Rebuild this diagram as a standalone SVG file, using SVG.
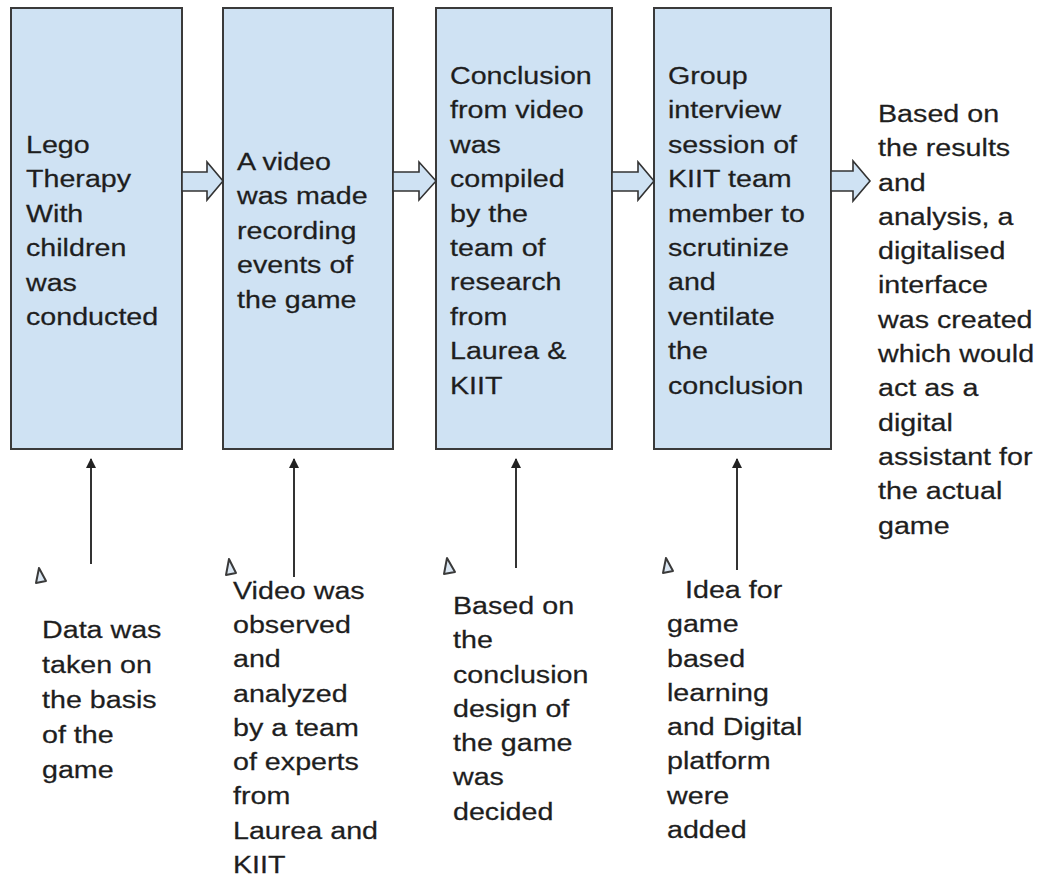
<svg xmlns="http://www.w3.org/2000/svg" width="1040" height="879" viewBox="0 0 1040 879">
<defs>
<style>
.box{fill:#cfe2f3;stroke:#3a3a3a;stroke-width:2}
.blk{fill:#cfe2f3;stroke:#333;stroke-width:1.6;stroke-linejoin:miter}
.t{font-family:"Liberation Sans",Arial,sans-serif;font-size:24.5px;fill:#1e1e1e;stroke:#1e1e1e;stroke-width:0.25}
.ln{stroke:#333;stroke-width:2;fill:none}
.tri{fill:#dbe7f3;stroke:#3a3a3a;stroke-width:2;stroke-linejoin:round}
</style>
<marker id="ah" viewBox="0 0 10 10" refX="9" refY="5" markerWidth="5" markerHeight="5" orient="auto" markerUnits="strokeWidth">
<path d="M0,0 L10,5 L0,10 z" fill="#222"/>
</marker>
</defs>
<rect width="1040" height="879" fill="#fff"/>

<g id="node1">
<rect class="box" x="11" y="8" width="171" height="441"/>
<g transform="matrix(1.17,0,0,1,-4.42,0)">
<text class="t" x="26" y="153">Lego</text>
<text class="t" x="26" y="187.5">Therapy</text>
<text class="t" x="26" y="222">With</text>
<text class="t" x="26" y="256.5">children</text>
<text class="t" x="26" y="291">was</text>
<text class="t" x="26" y="325.5">conducted</text>
</g>
</g>

<g id="node2">
<rect class="box" x="223" y="8" width="170" height="441"/>
<g transform="matrix(1.17,0,0,1,-40.29,0)">
<text class="t" x="237" y="170">A video</text>
<text class="t" x="237" y="204.5">was made</text>
<text class="t" x="237" y="239">recording</text>
<text class="t" x="237" y="273.5">events of</text>
<text class="t" x="237" y="308">the game</text>
</g>
</g>

<g id="node3">
<rect class="box" x="436" y="8" width="176" height="441"/>
<g transform="matrix(1.17,0,0,1,-76.5,0)">
<text class="t" x="450" y="84">Conclusion</text>
<text class="t" x="450" y="118.4">from video</text>
<text class="t" x="450" y="152.8">was</text>
<text class="t" x="450" y="187.2">compiled</text>
<text class="t" x="450" y="221.6">by the</text>
<text class="t" x="450" y="256">team of</text>
<text class="t" x="450" y="290.4">research</text>
<text class="t" x="450" y="324.8">from</text>
<text class="t" x="450" y="359.2">Laurea &amp;</text>
<text class="t" x="450" y="393.6">KIIT</text>
</g>
</g>

<g id="node4">
<rect class="box" x="654" y="8" width="177" height="441"/>
<g transform="matrix(1.17,0,0,1,-113.56,0)">
<text class="t" x="668" y="84">Group</text>
<text class="t" x="668" y="118.4">interview</text>
<text class="t" x="668" y="152.8">session of</text>
<text class="t" x="668" y="187.2">KIIT team</text>
<text class="t" x="668" y="221.6">member to</text>
<text class="t" x="668" y="256">scrutinize</text>
<text class="t" x="668" y="290.4">and</text>
<text class="t" x="668" y="324.8">ventilate</text>
<text class="t" x="668" y="359.2">the</text>
<text class="t" x="668" y="393.6">conclusion</text>
</g>
</g>

<g id="node5">
<g transform="matrix(1.17,0,0,1,-149.26,0)">
<text class="t" x="878" y="122">Based on</text>
<text class="t" x="878" y="156.3">the results</text>
<text class="t" x="878" y="190.6">and</text>
<text class="t" x="878" y="224.9">analysis, a</text>
<text class="t" x="878" y="259.2">digitalised</text>
<text class="t" x="878" y="293.5">interface</text>
<text class="t" x="878" y="327.8">was created</text>
<text class="t" x="878" y="362.1">which would</text>
<text class="t" x="878" y="396.4">act as a</text>
<text class="t" x="878" y="430.7">digital</text>
<text class="t" x="878" y="465">assistant for</text>
<text class="t" x="878" y="499.3">the actual</text>
<text class="t" x="878" y="533.6">game</text>
</g>
</g>

<g id="note1">
<polygon class="tri" points="39,568 36,583 46,581"/>
<g transform="matrix(1.17,0,0,1,-7.14,0)">
<text class="t" x="42" y="638">Data was</text>
<text class="t" x="42" y="673">taken on</text>
<text class="t" x="42" y="708">the basis</text>
<text class="t" x="42" y="743">of the</text>
<text class="t" x="42" y="778">game</text>
</g>
</g>

<g id="note2">
<polygon class="tri" points="229,559 226,575 236,573"/>
<g transform="matrix(1.17,0,0,1,-39.61,0)">
<text class="t" x="233" y="599">Video was</text>
<text class="t" x="233" y="633.25">observed</text>
<text class="t" x="233" y="667.5">and</text>
<text class="t" x="233" y="701.75">analyzed</text>
<text class="t" x="233" y="736">by a team</text>
<text class="t" x="233" y="770.25">of experts</text>
<text class="t" x="233" y="804.5">from</text>
<text class="t" x="233" y="838.75">Laurea and</text>
<text class="t" x="233" y="873">KIIT</text>
</g>
</g>

<g id="note3">
<polygon class="tri" points="447,558 444,574 455,572"/>
<g transform="matrix(1.17,0,0,1,-77.01,0)">
<text class="t" x="453" y="614">Based on</text>
<text class="t" x="453" y="648.3">the</text>
<text class="t" x="453" y="682.6">conclusion</text>
<text class="t" x="453" y="716.9">design of</text>
<text class="t" x="453" y="751.2">the game</text>
<text class="t" x="453" y="785.5">was</text>
<text class="t" x="453" y="819.8">decided</text>
</g>
</g>

<g id="note4">
<polygon class="tri" points="666,558 663,573 673,571"/>
<g transform="matrix(1.17,0,0,1,-113.39,0)">
<text class="t" x="682.4" y="598">Idea for</text>
<text class="t" x="667" y="632.3">game</text>
<text class="t" x="667" y="666.6">based</text>
<text class="t" x="667" y="700.9">learning</text>
<text class="t" x="667" y="735.2">and Digital</text>
<text class="t" x="667" y="769.5">platform</text>
<text class="t" x="667" y="803.8">were</text>
<text class="t" x="667" y="838.1">added</text>
</g>
</g>

<g id="connectors">
<polygon class="blk" points="182,172 207,172 207,162 223,181 207,200 207,191 182,191"/>
<polygon class="blk" points="393,172 419,172 419,162 436,181 419,200 419,191 393,191"/>
<polygon class="blk" points="612,172 638,172 638,162 654,181 638,200 638,191 612,191"/>
<polygon class="blk" points="831,171 853,171 853,161 870,181 853,201 853,191 831,191"/>
<line class="ln" x1="91" y1="564" x2="91" y2="459" marker-end="url(#ah)"/>
<line class="ln" x1="294" y1="577" x2="294" y2="459" marker-end="url(#ah)"/>
<line class="ln" x1="516" y1="568" x2="516" y2="459" marker-end="url(#ah)"/>
<line class="ln" x1="737" y1="570" x2="737" y2="459" marker-end="url(#ah)"/>
</g>
</svg>
